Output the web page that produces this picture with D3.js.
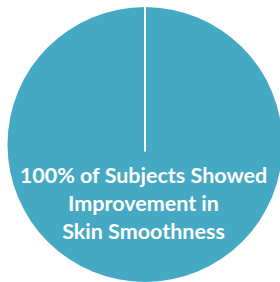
<!DOCTYPE html>
<html>
<head>
<meta charset="utf-8">
<script src="https://cdn.jsdelivr.net/npm/d3@7"></script>
<style>
  html, body { margin: 0; padding: 0; background: #fff; }
  svg { display: block; }
</style>
</head>
<body>
<div id="chart"></div>
<script>
// slice values (percent of subjects)
const categories = ["Improved", "Not improved"];
const values = [100, 0];
const labelLines = ["100% of Subjects Showed", "Improvement in", "Skin Smoothness"];

const width = 280, height = 282;
const cx = 145, cy = 144.5, radius = 137.5;

const svg = d3.select("#chart")
  .append("svg")
    .attr("width", width)
    .attr("height", height);

const g = svg.append("g")
    .attr("transform", `translate(${cx}, ${cy})`);

const pie = d3.pie().sort(null).value(d => d.value);
const arcs = pie(categories.map((c, i) => ({name: c, value: values[i]})));

const arc = d3.arc().innerRadius(0).outerRadius(radius);

g.selectAll("path.slice")
  .data(arcs)
  .enter()
  .append("path")
    .attr("class", "slice")
    .attr("d", arc)
    .attr("fill", "#45a9c3");

// white separator at each slice start
const r = d3.scaleLinear().domain([0, 1]).range([0, radius]);
g.selectAll("line.sep")
  .data(arcs.filter(d => d.value > 0))
  .enter()
  .append("line")
    .attr("class", "sep")
    .attr("x1", d => Math.sin(d.startAngle) * r(-0.05))
    .attr("y1", d => -Math.cos(d.startAngle) * r(-0.05))
    .attr("x2", d => Math.sin(d.startAngle) * r(1.01))
    .attr("y2", d => -Math.cos(d.startAngle) * r(1.01))
    .attr("stroke", "#fff")
    .attr("stroke-width", 2);

g.append("text")
    .attr("text-anchor", "middle")
    .attr("fill", "#fff")
    .attr("font-family", "Lato, 'Open Sans', sans-serif")
    .attr("font-weight", 700)
    .attr("font-size", 21.5)
  .selectAll("tspan")
  .data(labelLines)
  .enter()
  .append("tspan")
    .attr("x", -1.5)
    .attr("y", (d, i) => 38 + i * 28)
    .text(d => d);
</script>
</body>
</html>
